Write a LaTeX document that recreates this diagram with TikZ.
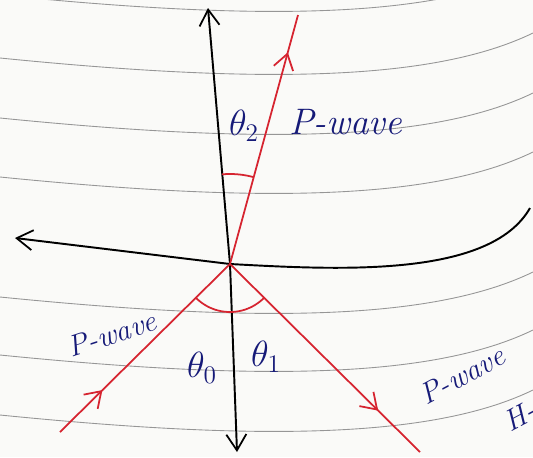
\documentclass[tikz,border=0pt]{standalone}
\usetikzlibrary{arrows.meta,decorations.markings}
\definecolor{inkred}{RGB}{214,36,48}
\definecolor{inkblue}{RGB}{22,26,120}
\definecolor{paper}{RGB}{250,250,248}
\definecolor{rule}{RGB}{150,150,150}
\tikzset{
  axisline/.style={black, line width=1.1pt},
  rayline/.style={inkred, line width=1pt},
  paperline/.style={rule, line width=0.5pt},
  lbl/.style={text=inkblue, font=\fontsize{17}{20}\selectfont\itshape, inner sep=1pt},
  biglbl/.style={text=inkblue, font=\fontsize{21}{24}\selectfont\itshape, inner sep=1pt},
  tip/.style={-{Straight Barb[length=3.2mm,width=4mm,line width=1pt]}},
  midarrow/.style={postaction={decorate, decoration={markings,
      mark=at position #1 with {\arrow{Straight Barb[length=3mm,width=4mm,line width=1pt]}}}}}
}
\begin{document}
\begin{tikzpicture}[x=0.02cm, y=-0.02cm]
\useasboundingbox (0,0) rectangle (533,457);
\fill[paper] (0,0) rectangle (533,457);
% ruled paper lines
\foreach \y in {-5,58,118,177,297,355,415} {
  \draw[paperline] (0,\y) .. controls (250,\y+25) and (430,\y+25) .. (533,\y-25);
}
% points
\coordinate (O) at (230,264);
\coordinate (Vt) at (208,8);
\coordinate (Vb) at (237,452);
\coordinate (Hl) at (15,238);
\coordinate (Hr) at (530,208);
\coordinate (R) at (298,15);
\coordinate (I) at (60,432);
\coordinate (F) at (420,452);
% axes
\draw[axisline, tip] (O) -- (Vt);
\draw[axisline, tip] (O) -- (Vb);
\draw[axisline, tip] (O) -- (Hl);
\draw[axisline] (O) .. controls (340,270) and (490,278) .. (Hr);
% rays
\draw[rayline, midarrow=0.85] (O) -- (R);
\draw[rayline, midarrow=0.25] (I) -- (O);
\draw[rayline, midarrow=0.78] (O) -- (F);
% angle arcs
\draw[rayline] plot[domain=-95:-75, samples=20, smooth] ({230+90*cos(\x)},{264+90*sin(\x)});
\draw[rayline] plot[domain=44:136, samples=40, smooth] ({230+48*cos(\x)},{264+48*sin(\x)});
% labels
\node[biglbl] (t2) at (244,126) {$\theta_2$};
\node[biglbl, anchor=west] (pw1) at (287,122) {P-wave};
\node[lbl, rotate=18] (pw2) at (112,334) {P-wave};
\node[biglbl] (t0) at (202,368) {$\theta_0$};
\node[biglbl] (t1) at (266,357) {$\theta_1$};
\node[lbl, rotate=28] (pw3) at (462,375) {P-wave};
\node[lbl, rotate=28, anchor=west] (h) at (504,424) {H-};
\end{tikzpicture}
\end{document}
